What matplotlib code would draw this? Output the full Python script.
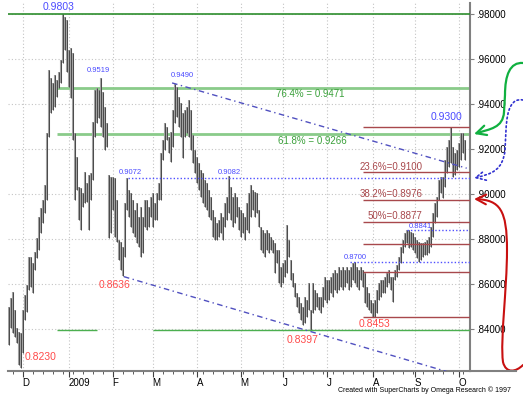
import numpy as np
import pandas as pd
import matplotlib
matplotlib.use("Agg")
import matplotlib.pyplot as plt
from matplotlib.path import Path
from matplotlib.patches import FancyArrowPatch
from matplotlib.lines import Line2D

plt.rcParams['font.family'] = ['Liberation Sans', 'DejaVu Sans']

# daily bars, one per weekday from 20 Nov 2008
start_date = '2008-11-20'
highs = [
    0.8501, 0.8538, 0.8567, 0.8486, 0.8404, 0.8390, 0.8382, 0.8486, 0.8553, 0.8597,
    0.8723, 0.8723, 0.8693, 0.8745, 0.8804, 0.8901, 0.8938, 0.8975, 0.9041, 0.9271,
    0.9553, 0.9516, 0.9493, 0.9530, 0.9508, 0.9545, 0.9597, 0.9803, 0.9790, 0.9775,
    0.9641, 0.9649, 0.9627, 0.9271, 0.9167, 0.9034, 0.9027, 0.9004, 0.9100,
    # feb
    0.9049, 0.9086, 0.9093, 0.9323, 0.9464, 0.9471, 0.9464, 0.9519, 0.9456, 0.9390,
    0.9316, 0.9086, 0.9079, 0.9079, 0.9071, 0.8975, 0.8797, 0.8790, 0.8767, 0.8960,
    0.9072, 0.9019, 0.9004, 0.8975, 0.8930, 0.8960, 0.8901, 0.8945, 0.8901, 0.8975,
    0.8975, 0.8945, 0.8990, 0.9004, 0.8960, 0.9004, 0.9049, 0.9182, 0.9241, 0.9316,
    0.9301,
    # mar / apr
    0.9256, 0.9279, 0.9375, 0.9490, 0.9479, 0.9434, 0.9404, 0.9360, 0.9375, 0.9390,
    0.9419, 0.9375, 0.9264, 0.9197, 0.9167, 0.9138, 0.9108, 0.9093, 0.9064, 0.9049,
    0.9019, 0.8990, 0.8930, 0.8901, 0.8871, 0.8886, 0.8916, 0.8901, 0.8960, 0.8990,
    0.9082, 0.9034, 0.8990, 0.9004, 0.8990, 0.8945, 0.8930, 0.8916, 0.8901, 0.8960,
    # may / jun
    0.9004, 0.9041, 0.9019, 0.9012, 0.9004, 0.8930, 0.8856, 0.8841, 0.8827, 0.8841,
    0.8827, 0.8812, 0.8797, 0.8782, 0.8753, 0.8753, 0.8679, 0.8693, 0.8708, 0.8864,
    0.8797, 0.8708, 0.8649, 0.8604, 0.8560, 0.8545, 0.8516, 0.8501, 0.8545, 0.8530,
    0.8604, 0.8486, 0.8604, 0.8575, 0.8560, 0.8545, 0.8545, 0.8590, 0.8634, 0.8619,
    # jul / aug
    0.8619, 0.8634, 0.8649, 0.8664, 0.8649, 0.8679, 0.8664, 0.8679, 0.8664, 0.8679,
    0.8664, 0.8679, 0.8693, 0.8700, 0.8679, 0.8664, 0.8679, 0.8664, 0.8649, 0.8590,
    0.8560, 0.8530, 0.8516, 0.8530, 0.8575, 0.8604, 0.8619, 0.8619, 0.8634, 0.8649,
    0.8664, 0.8634, 0.8634, 0.8664, 0.8686, 0.8723, 0.8767, 0.8797, 0.8827, 0.8841,
    # sep / oct
    0.8841, 0.8834, 0.8826, 0.8812, 0.8797, 0.8790, 0.8782, 0.8782, 0.8790, 0.8797,
    0.8812, 0.8856, 0.8915, 0.8960, 0.8990, 0.9064, 0.9079, 0.9079, 0.9153, 0.9212,
    0.9241, 0.9300, 0.9212, 0.9182, 0.9197, 0.9227, 0.9271, 0.9271, 0.9241,
]
lows = [
    0.8330, 0.8404, 0.8382, 0.8367, 0.8338, 0.8241, 0.8230, 0.8293, 0.8441, 0.8479,
    0.8575, 0.8590, 0.8560, 0.8664, 0.8716, 0.8753, 0.8827, 0.8871, 0.8916, 0.8975,
    0.9256, 0.9360, 0.9375, 0.9390, 0.9434, 0.9471, 0.9493, 0.9582, 0.9641, 0.9545,
    0.9479, 0.9427, 0.9241, 0.8975, 0.9019, 0.8886, 0.8841, 0.8945, 0.8960,
    # feb
    0.8967, 0.8841, 0.8975, 0.9064, 0.9256, 0.9316, 0.9338, 0.9301, 0.9256, 0.9197,
    0.9212, 0.8804, 0.8827, 0.8930, 0.8812, 0.8790, 0.8708, 0.8664, 0.8636, 0.8723,
    0.8930, 0.8901, 0.8856, 0.8827, 0.8812, 0.8782, 0.8767, 0.8723, 0.8738, 0.8856,
    0.8841, 0.8856, 0.8901, 0.8856, 0.8886, 0.8886, 0.8975, 0.8975, 0.9153, 0.9197,
    0.9241,
    # mar / apr
    0.9182, 0.9145, 0.9212, 0.9316, 0.9345, 0.9301, 0.9256, 0.9160, 0.9256, 0.9271,
    0.9256, 0.9197, 0.9138, 0.9093, 0.9049, 0.9019, 0.8990, 0.8960, 0.8945, 0.8930,
    0.8901, 0.8886, 0.8812, 0.8797, 0.8797, 0.8812, 0.8827, 0.8797, 0.8856, 0.8886,
    0.8916, 0.8886, 0.8856, 0.8871, 0.8901, 0.8841, 0.8812, 0.8827, 0.8797, 0.8841,
    # may / jun
    0.8827, 0.8901, 0.8930, 0.8901, 0.8916, 0.8856, 0.8753, 0.8738, 0.8723, 0.8753,
    0.8738, 0.8753, 0.8738, 0.8649, 0.8693, 0.8604, 0.8590, 0.8604, 0.8634, 0.8649,
    0.8723, 0.8619, 0.8590, 0.8545, 0.8501, 0.8471, 0.8441, 0.8419, 0.8427, 0.8456,
    0.8486, 0.8397, 0.8471, 0.8486, 0.8501, 0.8486, 0.8471, 0.8501, 0.8530, 0.8516,
    # jul / aug
    0.8530, 0.8560, 0.8545, 0.8575, 0.8560, 0.8575, 0.8590, 0.8575, 0.8590, 0.8604,
    0.8575, 0.8590, 0.8619, 0.8604, 0.8590, 0.8575, 0.8619, 0.8590, 0.8516, 0.8501,
    0.8486, 0.8471, 0.8456, 0.8453, 0.8471, 0.8530, 0.8545, 0.8560, 0.8560, 0.8590,
    0.8604, 0.8575, 0.8523, 0.8619, 0.8634, 0.8664, 0.8693, 0.8738, 0.8767, 0.8782,
    # sep / oct
    0.8760, 0.8767, 0.8752, 0.8738, 0.8715, 0.8700, 0.8708, 0.8723, 0.8730, 0.8730,
    0.8737, 0.8767, 0.8812, 0.8871, 0.8901, 0.8975, 0.9004, 0.8982, 0.9034, 0.9093,
    0.9123, 0.9138, 0.9079, 0.9086, 0.9108, 0.9123, 0.9153, 0.9182, 0.9153,
]

top_level = 0.9803
base_level = 0.8397
green_fib = [0.9471, 0.9266]
green_fib_text = ['76.4% = 0.9471', '61.8% = 0.9266']
red_fib = [0.9300, 0.9100, 0.8976, 0.8877, 0.8777, 0.8653, 0.8453]
red_fib_text = ['23.6%=0.9100', '38.2%=0.8976', '50%=0.8877']
blue_levels = [0.9072, 0.8700, 0.8841]
blue_starts = [59.5, 170.6, 199.0]
upper_trend_x, upper_trend_y = [81.7, 229.0], [0.9495, 0.9116]
lower_trend_x, lower_trend_y = [57.6, 221.0], [0.8634, 0.8207]
price_ticks = [0.84, 0.86, 0.88, 0.90, 0.92, 0.94, 0.96, 0.98]

# swing labels: text, x pos, y, colour, size
blue = '#4a4aff'
red = '#ff4a4a'
swing_labels = [
    ('0.9803', 24.7, 0.9831, blue, 7.5),
    ('0.9519', 44.7, 0.9548, blue, 5.5),
    ('0.9490', 86.7, 0.9530, blue, 5.5),
    ('0.9072', 60.7, 0.9095, blue, 5.5),
    ('0.9082', 110.2, 0.9099, blue, 5.5),
    ('0.8700', 173.2, 0.8718, blue, 5.5),
    ('0.8841', 205.7, 0.8856, blue, 5.5),
    ('0.9300', 218.7, 0.9342, blue, 7.5),
    ('0.8230', 15.9, 0.8276, red, 7.5),
    ('0.8636', 52.7, 0.8597, red, 7.5),
    ('0.8397', 146.9, 0.8352, red, 7.5),
    ('0.8453', 182.9, 0.8422, red, 7.5),
]

dates = pd.bdate_range(start_date, periods=len(highs))
pos = np.arange(len(highs))
month_pos = [i for i in range(1, len(dates)) if dates[i].month != dates[i - 1].month]
month_lbl = [str(dates[i].year) if dates[i].month == 1 else dates[i].strftime('%b')[0]
             for i in month_pos]
week_pos = [i for i in range(len(dates)) if dates[i].dayofweek == 0]

W, H = 523, 396
fig = plt.figure(figsize=(W / 100, H / 100), dpi=100)
ax = fig.add_axes([8 / W, 1 - 371 / H, 461.7 / W, 368 / H])
x_right = 230.5
ax.set_xlim(-0.35, x_right)
ax.set_ylim(0.82147, 0.98502)

ax.grid(True, which='major', color='#c4c4c4', linestyle=(0, (1, 2)), lw=0.8)
ax.set_axisbelow(True)

# bars
ax.vlines(pos, lows, highs, color='#a2a2a2', lw=1.5, zorder=2)
ax.vlines(pos, lows, highs, color='#4a4a4a', lw=0.7, zorder=3)

# green retracement set
ax.axhline(top_level, color='#2e8e2e', lw=1.2, zorder=4)
ax.hlines(green_fib, 24.2, x_right, color='#8acb8a', lw=2, zorder=1)
ax.hlines([base_level, base_level], [24.2, 72.2], [44.2, x_right], color='#4caf50', lw=1, zorder=4)
ax.text(150.9, 0.9444, green_fib_text[0], color='#3aa03a', fontsize=7, ha='center', va='center')
ax.text(151.7, 0.9237, green_fib_text[1], color='#3aa03a', fontsize=7, ha='center', va='center')

# red retracement set
ax.hlines(red_fib, 177.2, x_right, color='#a8484c', lw=1, zorder=4)
ax.text(191.2, 0.9123, red_fib_text[0], color='#a8484c', fontsize=7, ha='center', va='center')
ax.text(191.2, 0.9001, red_fib_text[1], color='#a8484c', fontsize=7, ha='center', va='center')
ax.text(192.9, 0.8905, red_fib_text[2], color='#a8484c', fontsize=7, ha='center', va='center')

# blue dotted levels
for lv, st in zip(blue_levels, blue_starts):
    ax.hlines(lv, st, x_right, color='#5050ff', lw=1, linestyle=(0, (1, 1.5)), zorder=4)

# channel
ax.plot(upper_trend_x, upper_trend_y, color='#5050c0', lw=1, linestyle=(0, (4, 2.5, 1, 2.5)), zorder=4)
ax.plot(lower_trend_x, lower_trend_y, color='#5050c0', lw=1, linestyle=(0, (4, 2.5, 1, 2.5)), zorder=4)

for txt, x, y, c, s in swing_labels:
    ax.text(x, y, txt, color=c, fontsize=s, ha='center', va='center', zorder=5)

# axes
ax.yaxis.tick_right()
ax.set_yticks(price_ticks)
ax.set_yticklabels([f'{v:.5f}'[1:] for v in price_ticks])
ax.tick_params(axis='y', length=3, pad=1.5, labelsize=7, color='#808080')
ax.set_xticks(month_pos)
ax.set_xticklabels(month_lbl)
for lbl in ax.get_xticklabels():
    lbl.set_ha('left')
ax.set_xticks(week_pos, minor=True)
ax.tick_params(axis='x', which='major', length=4, pad=1, labelsize=7, color='#404040')
ax.tick_params(axis='x', which='minor', length=2.5, color='#404040')
for s in ['left', 'top']:
    ax.spines[s].set_visible(False)
for s in ['right', 'bottom']:
    ax.spines[s].set_color('#808080')
    ax.spines[s].set_linewidth(1.5)

fig.add_artist(Line2D([469.7 / W, 516 / W], [1 - 371 / H] * 2, color='#808080', lw=1.5))


def fp(pts):
    return [(x / W, 1 - y / H) for x, y in pts]


C4 = Path.CURVE4
green_path = Path(fp([(523, 63), (510, 62), (505, 75), (505, 95), (504, 112),
                      (503, 128), (490, 129), (474, 134)]),
                  [Path.MOVETO, C4, C4, C4, Path.LINETO, C4, C4, C4])
blue_path = Path(fp([(523, 100), (512, 98), (507, 108), (506, 130), (505, 150),
                     (503, 170), (492, 174), (474, 178)]),
                 [Path.MOVETO, C4, C4, C4, Path.LINETO, C4, C4, C4])
red_path = Path(fp([(523, 365), (516, 372), (506, 374), (503, 362),
                    (500, 340), (507, 290), (507, 250),
                    (507, 210), (500, 200), (474, 199)]),
                [Path.MOVETO, C4, C4, C4, C4, C4, C4, C4, C4, C4])

for pth, col, lw, ls in [(green_path, '#10b040', 1.6, '-'),
                         (blue_path, '#3030d0', 1.2, ':'),
                         (red_path, '#c81010', 1.5, '-')]:
    arr = FancyArrowPatch(path=pth, arrowstyle='->,head_length=0.7,head_width=0.35',
                          mutation_scale=10, color=col, lw=lw, linestyle=ls,
                          transform=fig.transFigure)
    fig.add_artist(arr)

fig.text(338 / W, 1 - 390.5 / H, 'Created with SuperCharts by Omega Research \u00a9 1997',
         fontsize=5, ha='left', va='center')

fig.savefig('out.png', dpi=100)
